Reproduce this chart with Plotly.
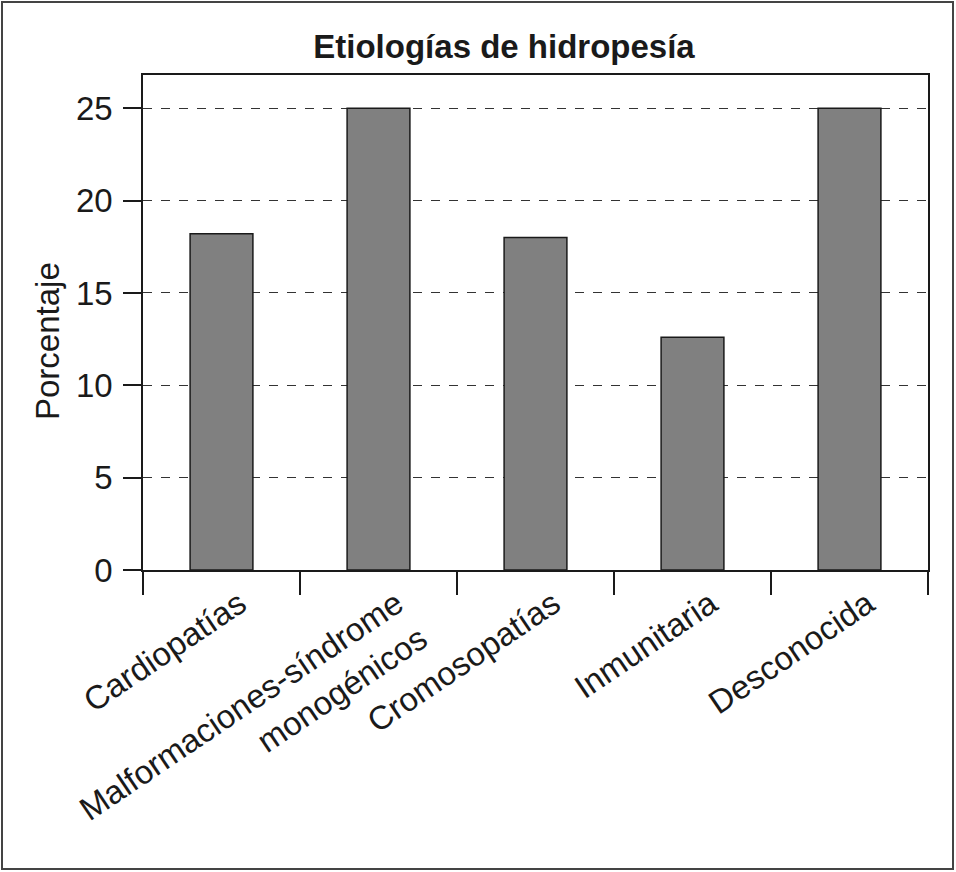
import plotly.graph_objects as go

categories = ["Cardiopatías", "Malformaciones-síndrome<br>monogénicos", "Cromosopatías", "Inmunitaria", "Desconocida"]
values = [18.2, 25.0, 18.0, 12.6, 25.0]
y_ticks = [0, 5, 10, 15, 20, 25]

W, H = 956, 872
L, R, T, B = 143, 28, 75, 302
FONT = "Liberation Sans, Arial, Helvetica, sans-serif"
INK = "#1a1a1a"

fig = go.Figure(go.Bar(
    x=categories, y=values,
    marker=dict(color="#808080", line=dict(color=INK, width=1.5)),
    width=0.4,
))

pw = W - L - R
ph = H - T - B
def px2x(p): return (p - L) / pw
def px2y(p): return (H - B - p) / ph

fig.update_layout(
    width=W, height=H,
    margin=dict(l=L, r=R, t=T, b=B, autoexpand=False),
    paper_bgcolor="white", plot_bgcolor="white",
    font=dict(family=FONT, color=INK, size=33),
    title=dict(text="<b>Etiologías de hidropesía</b>", x=504 / W, xanchor="center",
               y=1 - 46 / H, yanchor="middle", font=dict(size=33, color=INK)),
    showlegend=False,
    shapes=[dict(type="rect", xref="paper", yref="paper",
                 x0=px2x(2), x1=px2x(953), y0=px2y(869), y1=px2y(2),
                 line=dict(color="#444", width=2), fillcolor="rgba(0,0,0,0)", layer="below")],
    annotations=[dict(text="Porcentaje", xref="paper", yref="paper",
                      x=px2x(47), y=px2y(341), xanchor="center", yanchor="middle",
                      textangle=-90, showarrow=False, font=dict(size=33, color=INK))],
)
fig.update_xaxes(
    showline=True, mirror=True, linecolor=INK, linewidth=1.5,
    ticks="outside", ticklen=23, tickwidth=1.5, tickcolor=INK,
    tickson="boundaries", tickangle=-34, tickfont=dict(size=33),
    ticklabelshift=18, automargin=False,
    showgrid=False,
)
fig.update_yaxes(
    range=[0, 26.8], tickvals=y_ticks, ticktext=[str(v) for v in y_ticks],
    showline=True, mirror=True, linecolor=INK, linewidth=1.5,
    ticks="outside", ticklen=18, tickwidth=1.5, tickcolor=INK,
    tickfont=dict(size=33), ticklabelstandoff=4, automargin=False,
    showgrid=True, gridcolor="#333", gridwidth=1, griddash="dash",
    zeroline=False,
)
fig.write_html("out.html", config={"displayModeBar": False},
               post_script="document.body.style.margin='0';document.body.style.overflow='hidden';")
